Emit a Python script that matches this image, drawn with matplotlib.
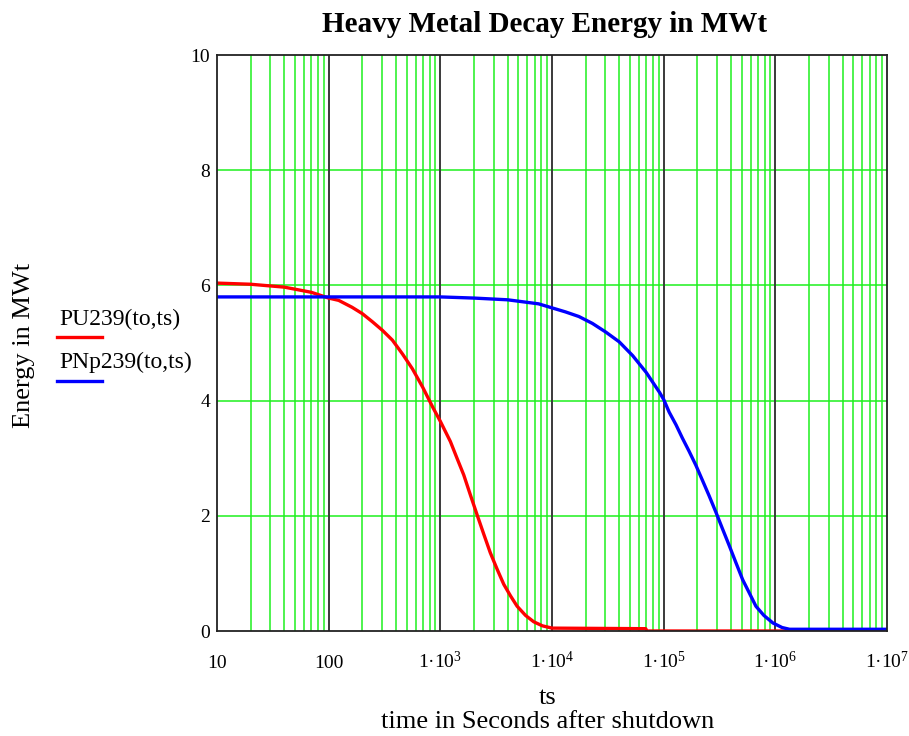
import matplotlib

matplotlib.use("Agg")
import matplotlib.pyplot as plt
from matplotlib.lines import Line2D
from matplotlib.ticker import FixedLocator, FixedFormatter, NullFormatter

# values (time in s, energy in MWt)
t_pu = [10, 20, 40, 70, 100, 123, 162, 200, 246, 303, 372, 458, 563, 696, 858,
        1000, 1230, 1410, 1620, 1860, 2140, 2450, 2800, 3230, 3700, 4250, 4870,
        5800, 6860, 8200, 10000, 69000, 71000, 1e7]
e_pu = [6.04, 6.02, 5.97, 5.88, 5.78, 5.74, 5.62, 5.51, 5.37, 5.22, 5.05, 4.81,
        4.55, 4.23, 3.88, 3.64, 3.29, 3.00, 2.71, 2.36, 2.01, 1.68, 1.36, 1.07,
        0.81, 0.61, 0.43, 0.27, 0.16, 0.09, 0.05, 0.04, 0.0, 0.0]

t_np = [10, 1000, 2000, 4000, 7580, 1e4, 1.32e4, 1.74e4, 2.3e4, 3.03e4, 4.0e4,
        5.28e4, 6.97e4, 9.2e4, 1e5, 1.12e5, 1.29e5, 1.47e5, 1.69e5, 1.94e5,
        2.22e5, 2.55e5, 2.94e5, 3.37e5, 3.87e5, 4.45e5, 5.1e5, 5.85e5, 6.7e5,
        7.9e5, 9.5e5, 1.15e6, 1.34e6, 1e7]
e_np = [5.80, 5.80, 5.78, 5.75, 5.68, 5.61, 5.54, 5.46, 5.34, 5.19, 5.02,
        4.78, 4.49, 4.14, 4.02, 3.80, 3.58, 3.35, 3.12, 2.88,
        2.62, 2.35, 2.06, 1.77, 1.48, 1.18, 0.89, 0.66, 0.43,
        0.27, 0.14, 0.06, 0.03, 0.03]

x_ticks = [10, 100, 1e3, 1e4, 1e5, 1e6, 1e7]
x_labels = ["10", "100", "1·10$^{3}$", "1·10$^{4}$", "1·10$^{5}$",
            "1·10$^{6}$", "1·10$^{7}$"]
y_ticks = [0, 2, 4, 6, 8, 10]

series_labels = ["PU239(to,ts)", "PNp239(to,ts)"]

plt.rcParams["font.family"] = ["Liberation Serif", "DejaVu Serif"]
plt.rcParams["mathtext.default"] = "regular"

GREEN = "#1EF01E"

fig = plt.figure(figsize=(9.09, 7.36), dpi=100)
fig.patch.set_facecolor("white")
ax = fig.add_axes([217 / 909, 1 - 631 / 736, 670 / 909, 576 / 736])

ax.set_xscale("log")
ax.set_xlim(10, 1e7)
ax.set_ylim(0, 10)

# minor decade lines in green, decades in dark grey
minor = [m * 10 ** d for d in range(1, 7) for m in range(2, 10)]
for xv in minor:
    ax.axvline(xv, color=GREEN, lw=1.1, zorder=1)
for xv in x_ticks[1:-1]:
    ax.axvline(xv, color="#3a3a3a", lw=1.4, zorder=1.5)
for yv in y_ticks[1:-1]:
    ax.axhline(yv, color=GREEN, lw=1.1, zorder=1)

ax.plot(t_pu, e_pu, color="#FF0000", lw=2.4, zorder=3)
ax.plot(t_np, e_np, color="#0000FF", lw=2.4, zorder=4)

ax.xaxis.set_major_locator(FixedLocator(x_ticks))
ax.xaxis.set_major_formatter(FixedFormatter(x_labels))
ax.xaxis.set_minor_formatter(NullFormatter())
ax.set_yticks(y_ticks)
ax.tick_params(axis="x", which="both", length=0, pad=27, labelsize=14)
ax.tick_params(axis="y", which="both", length=0, pad=5, labelsize=14)
for lab in ax.get_xticklabels():
    lab.set_verticalalignment("baseline")

for sp in ax.spines.values():
    sp.set_color("#222222")
    sp.set_linewidth(1.3)
    sp.set_zorder(5)

fig.text(545 / 909, 1 - 32 / 736, "Heavy Metal Decay Energy in MWt",
         fontsize=21, fontweight="bold", ha="center", va="baseline")
ax.set_xlabel("ts\ntime in Seconds after shutdown", fontsize=19, linespacing=1.1)
ax.xaxis.set_label_coords(0.494, -0.097)
ax.set_ylabel("Energy in MWt", fontsize=19)
ax.yaxis.set_label_coords(-0.272, 0.495)

# mathcad style legend: label above a short line
fig.text(59 / 909, 1 - 319 / 736, series_labels[0], fontsize=17, va="center")
fig.add_artist(Line2D([57 / 909, 102 / 909], [1 - 337 / 736] * 2,
                      color="#FF0000", lw=2.4, transform=fig.transFigure))
fig.text(59 / 909, 1 - 362 / 736, series_labels[1], fontsize=17, va="center")
fig.add_artist(Line2D([57 / 909, 102 / 909], [1 - 381 / 736] * 2,
                      color="#0000FF", lw=2.4, transform=fig.transFigure))

fig.savefig("out.png", dpi=100, facecolor="white")
plt.close(fig)
